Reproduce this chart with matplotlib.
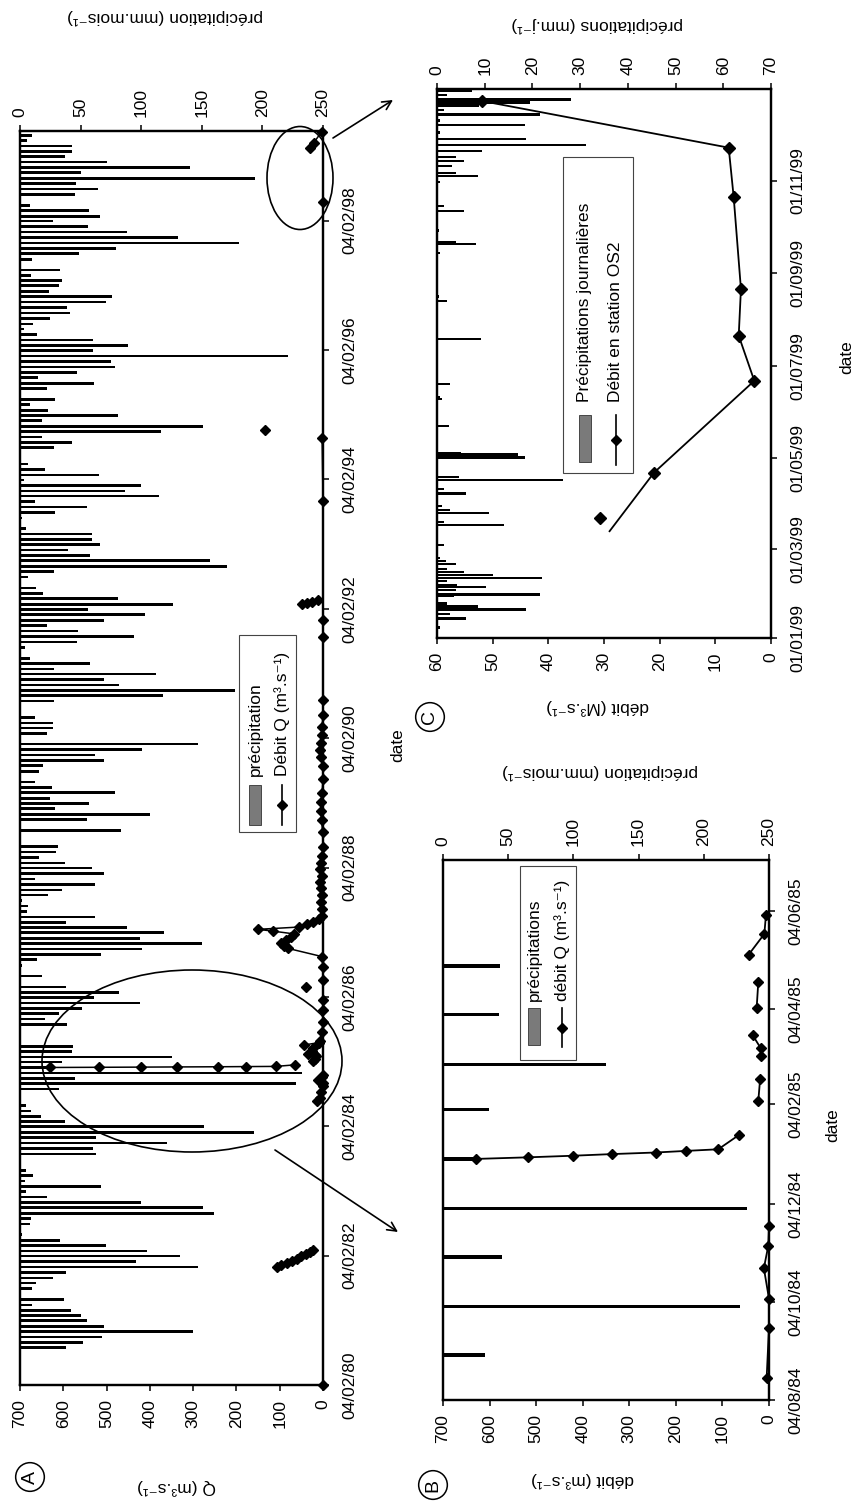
import numpy as np
import matplotlib
matplotlib.use('Agg')
import matplotlib.pyplot as plt
import matplotlib.dates as mdates
from matplotlib.patches import Ellipse, Rectangle

plt.rcParams['font.family'] = ['Liberation Sans', 'DejaVu Sans']
plt.rcParams['font.size'] = 12.5

# ------------------------------------------------------------------ data
# monthly precipitation (mm/month), one value per month from Sept. 1980
precip_start = '1980-09'
precip_monthly = [
    38, 52, 68, 143, 69, 55, 50, 42, 10, 36, 0, 10,
    13, 27, 38, 147, 96, 132, 105, 71, 33, 2, 0, 8,
    9, 160, 151, 100, 22, 5, 67, 4, 11, 5, 0, 0,
    63, 60, 121, 63, 193, 152, 37, 17, 9, 5, 1, 0.5,
    32.5, 228, 45.5, 233, 25, 35, 125, 43, 43.5, 0, 0, 0,
    39, 21, 32, 51, 99, 61, 82, 38, 0, 18, 0, 2,
    14, 67, 101, 150, 99, 119, 88, 38, 62, 6, 7, 2,
    23, 35, 62, 12, 69, 59, 37, 16, 30, 31, 0, 0,
    83, 0.5, 55, 107, 29, 57, 25, 78, 26, 12, 1, 16,
    19, 69, 62, 101, 147, 0.5, 22, 27, 27, 12, 0.5, 0,
    28, 118, 177, 82, 69, 112, 28, 58, 8, 0, 4, 47,
    94, 48, 22, 69, 103, 56, 126, 81, 19, 13, 0, 7,
    28, 171, 157, 58, 40, 66, 59, 59, 5, 0, 1.5, 29,
    55, 12, 115, 87, 100, 3, 65, 21, 7, 0, 0, 28,
    43, 18, 116, 151, 18, 81, 23, 8, 29, 0, 22, 61,
    15, 47, 78, 75, 221, 60, 89, 60, 14, 3, 11, 25,
    41, 39, 71, 76, 24, 32, 35, 9, 33, 0, 10, 49,
    79, 181, 130, 88, 56, 27, 66, 57, 8, 0, 45, 64,
    46, 194, 50, 140, 72, 37, 43, 43, 6, 10,
]

# discharge Q (m3/s) ; NaN rows separate unconnected groups of points
q_dates = [
    '1980-02-04', '1980-06-01',
    '1981-12-01', '1981-12-13', '1981-12-25', '1982-01-06', '1982-01-18',
    '1982-01-30', '1982-02-11', '1982-02-23', '1982-03-07', '1983-01-01',
    '1984-06-25', '1984-07-15', '1984-08-18', '1984-09-18', '1984-10-06',
    '1984-10-25', '1984-11-08', '1984-11-20', '1984-12-20',
    '1985-01-01', '1985-01-02', '1985-01-03', '1985-01-04', '1985-01-05',
    '1985-01-06', '1985-01-07', '1985-01-16', '1985-01-25',
    '1985-02-06', '1985-02-20', '1985-02-28',
    '1985-03-06', '1985-03-11', '1985-03-19', '1985-03-28',
    '1985-04-05', '1985-04-21', '1985-04-30',
    '1985-05-08', '1985-05-21', '1985-06-02', '1985-07-20', '1985-09-17',
    '1985-11-20', '1986-01-15', '1986-03-01',
    '1986-04-02', '1986-04-20',
    '1986-05-10', '1986-07-24', '1986-09-19', '1986-11-05', '1986-11-20',
    '1986-12-05', '1986-12-20', '1987-01-05', '1987-01-25', '1987-02-10',
    '1987-02-20', '1987-03-05', '1987-03-20', '1987-04-05', '1987-04-20',
    '1987-05-05', '1987-06-15', '1987-07-25', '1987-09-01', '1987-10-10',
    '1987-11-15', '1987-12-20', '1988-01-25', '1988-03-01', '1988-04-10',
    '1988-06-01', '1988-08-20', '1988-11-01', '1988-12-20', '1989-02-10',
    '1989-04-01', '1989-06-20', '1989-09-01', '1989-10-20', '1989-12-01',
    '1990-01-10', '1990-02-20', '1990-04-10', '1990-06-15', '1990-09-06',
    '1991-08-26', '1991-12-01', '1992-02-15',
    '1992-03-01', '1992-03-08', '1992-03-16', '1992-03-24', '1992-06-01',
    '1993-10-05', '1994-09-28', '1994-10-20',
    '1994-11-12', '1995-01-01',
    '1998-05-18', '1998-09-01',
]
q_values = [
    0, np.nan,
    106, 96, 84, 72, 60, 50, 40, 30, 23, np.nan,
    15, 8, 5, 0, 0, 11, 1.5, 0, np.nan,
    630, 517, 420, 338, 243, 178, 109, 64, np.nan,
    23, 19, np.nan,
    17, 18, 35, np.nan,
    26.5, 23, np.nan,
    44, 10, 6.5, 2, 0, 1, 0, np.nan,
    39, np.nan,
    0, 0, 2, 82, 90, 97, 86, 75, 66, 116, 150, 55, 38, 22, 10, 3,
    2, 5, 2, 4, 6, 3, 7, 4, 2, 0, 1, 3, 5, 4, 2, 0, 1, 4, 6, 5, 3, 2, 0,
    0, 0, 0, np.nan,
    48, 38, 25, 12, np.nan,
    0, 2, np.nan,
    135, np.nan,
    0, np.nan,
]

# daily rainfall 1999 (mm/day)
c_rain_dates = [
    '1999-01-01', '1999-01-08', '1999-01-14', '1999-01-17', '1999-01-20',
    '1999-01-22', '1999-01-24', '1999-01-29', '1999-01-30', '1999-02-02',
    '1999-02-04', '1999-02-05', '1999-02-08', '1999-02-10', '1999-02-12',
    '1999-02-14', '1999-02-16', '1999-02-19', '1999-02-21', '1999-02-23',
    '1999-03-04', '1999-03-17', '1999-03-19', '1999-03-25', '1999-03-27',
    '1999-03-30', '1999-04-07', '1999-04-10', '1999-04-16', '1999-04-18',
    '1999-05-01', '1999-05-03', '1999-05-04', '1999-05-22', '1999-06-09',
    '1999-06-10', '1999-06-19', '1999-07-19', '1999-08-13', '1999-08-16',
    '1999-09-14', '1999-09-20', '1999-09-21', '1999-09-29', '1999-10-12',
    '1999-10-15', '1999-10-31', '1999-11-04', '1999-11-06', '1999-11-11',
    '1999-11-14', '1999-11-17', '1999-11-21', '1999-11-25', '1999-11-29',
    '1999-12-03', '1999-12-08', '1999-12-11', '1999-12-15', '1999-12-18',
    '1999-12-21', '1999-12-23', '1999-12-25', '1999-12-28', '1999-12-31',
]
c_rain_values = [
    60, 0.7, 6, 2.8, 18.7, 8.5, 2, 3.5, 21.6, 3.9,
    10.3, 4.2, 2, 22, 11.7, 5.7, 2, 3.9, 1.8, 0.7,
    1.4, 14, 1.4, 11, 2.8, 1, 6, 1.4, 26.5, 4.6,
    18.4, 17, 5, 2.5, 1, 0.7, 2.8, 9.2, 2, 0.4,
    0.7, 8.1, 3.9, 0.4, 5.7, 1.4, 0.7, 8.5, 3.9, 3.2,
    5.7, 3.9, 9.5, 31.3, 18.7, 0.7, 18.4, 0.7, 21.6, 1.4,
    8.8, 19.4, 28, 2, 7.4,
]

# discharge at station OS2, 1999 (M3/s)
c_q_dates = ['1999-03-22', '1999-04-21', '1999-06-21', '1999-07-21',
             '1999-08-21', '1999-10-21', '1999-11-23', '1999-12-24']
c_q_values = [30.8, 21, 3, 5.8, 5.4, 6.7, 7.6, 51.9]
# the drawn line starts slightly apart from the first marker
c_line_dates = ['1999-03-13'] + c_q_dates[1:]
c_line_values = [29] + c_q_values[1:]

a_date_ticks = ['1980-02-04', '1982-02-04', '1984-02-04', '1986-02-04',
                '1988-02-04', '1990-02-04', '1992-02-04', '1994-02-04',
                '1996-02-04', '1998-02-04']
b_date_ticks = ['1984-08-04', '1984-10-04', '1984-12-04', '1985-02-04',
                '1985-04-04', '1985-06-04']
c_date_ticks = ['1999-01-01', '1999-03-01', '1999-05-01', '1999-07-01',
                '1999-09-01', '1999-11-01']
a_range = ('1980-02-04', '1999-06-25')
b_range = ('1984-08-04', '1985-07-06')
c_range = ('1999-01-01', '2000-01-01')

# ------------------------------------------------------------------ helpers
def d64(lst):
    return np.array(lst, dtype='datetime64[D]')


def within(dates, rng):
    return (dates >= np.datetime64(rng[0])) & (dates <= np.datetime64(rng[1]))


precip_dates = np.arange(np.datetime64(precip_start, 'M'),
                         np.datetime64(precip_start, 'M') + len(precip_monthly)
                         ).astype('datetime64[D]')
precip_vals = np.array(precip_monthly, dtype=float)
qd = d64(q_dates)
qv = np.array(q_values, dtype=float)
# full Q series for panel A (including 1999)
qd_all = np.concatenate([qd, d64(c_q_dates)])
qv_all = np.concatenate([qv, np.array(c_q_values, dtype=float)])

W, H = 853, 1503
fig = plt.figure(figsize=(W / 100, H / 100), dpi=100)
fig.patch.set_facecolor('white')


def rect(l, t, r, b):
    return [l / W, 1 - b / H, (r - l) / W, (b - t) / H]


def style_axis(axp, axq, p_max, p_step, q_max, q_step, drange, dticks):
    axp.set_xlim(0, p_max)
    axp.set_xticks(np.arange(0, p_max + 1, p_step))
    axq.set_xlim(q_max, 0)
    axq.set_xticks(np.arange(0, q_max + 1, q_step))
    axp.xaxis.tick_top()
    axq.xaxis.tick_bottom()
    axp.yaxis.tick_right()
    axp.set_ylim(np.datetime64(drange[0]), np.datetime64(drange[1]))
    axp.set_yticks(d64(dticks))
    axp.yaxis.set_major_formatter(mdates.DateFormatter('%d/%m/%y'))
    axp.tick_params(axis='x', direction='out', length=4, width=1.1, pad=6,
                    labelrotation=90)
    axq.tick_params(axis='x', direction='out', length=4, width=1.1, pad=6,
                    labelrotation=90)
    axp.tick_params(axis='y', direction='out', length=4, width=1.1, pad=10,
                    labelrotation=90)
    for lab in axp.get_yticklabels():
        lab.set_va('center')
    for ax in (axp, axq):
        for s in ax.spines.values():
            s.set_linewidth(1.6)
            s.set_color('black')


# ------------------------------------------------------------------ panel A
axA = fig.add_axes(rect(20, 131, 323, 1385))
axAq = axA.twiny()
axA.barh(precip_dates, precip_vals, height=np.timedelta64(15, 'D'),
         color='black', align='center')
mA = within(qd_all, a_range)
axAq.plot(qv_all[mA], qd_all[mA], color='black', lw=1.1, marker='D', ms=5,
          mfc='black', mec='black', clip_on=False)
style_axis(axA, axAq, 250, 50, 700, 100, a_range, a_date_ticks)

# ------------------------------------------------------------------ panel B
axB = fig.add_axes(rect(443, 860, 769, 1400))
axBq = axB.twiny()
mBp = within(precip_dates, b_range)
axB.barh(precip_dates[mBp], precip_vals[mBp], height=np.timedelta64(2, 'D'),
         color='black', align='center')
mB = within(qd, b_range)
axBq.plot(qv[mB], qd[mB], color='black', lw=1.3, marker='D', ms=5,
          mfc='black', mec='black', clip_on=False)
style_axis(axB, axBq, 250, 50, 700, 100, b_range, b_date_ticks)

# ------------------------------------------------------------------ panel C
axC = fig.add_axes(rect(437, 89, 771, 638))
axCq = axC.twiny()
axC.barh(d64(c_rain_dates), c_rain_values,
         height=np.timedelta64(36, 'h'),
         color='black', align='center')
axCq.plot(np.array(c_line_values), d64(c_line_dates), color='black', lw=1.3)
axCq.plot(np.array(c_q_values), d64(c_q_dates), ls='none', marker='D', ms=6.5,
          mfc='black', mec='black')
style_axis(axC, axCq, 70, 10, 60, 10, c_range, c_date_ticks)

# ------------------------------------------------------------------ overlay (page coordinates)
ov = fig.add_axes([0, 0, 1, 1], zorder=10)
ov.set_xlim(0, W)
ov.set_ylim(H, 0)
ov.axis('off')


def txt(x, y, s, rot):
    ov.text(x, y, s, rotation=rot, ha='center', va='center')


# axis titles
txt(165, 17, 'précipitation (mm.mois⁻¹)', 180)
txt(177, 1487, 'Q (m³.s⁻¹)', 180)
txt(398, 745, 'date', 90)
txt(600, 772, 'précipitation (mm.mois⁻¹)', 180)
txt(583, 1480, 'débit (m³.s⁻¹)', 180)
txt(833, 1125, 'date', 90)
txt(597, 25, 'précipitations (mm.j⁻¹)', 180)
txt(598, 707, 'débit (M³.s⁻¹)', 180)
txt(847, 357, 'date', 90)

# panel letters
for (x, y, s) in [(30, 1477, 'A'), (433, 1485, 'B'), (430, 717, 'C')]:
    ov.text(x, y, s, rotation=90, ha='center', va='center', fontsize=14,
            bbox=dict(boxstyle='circle,pad=0.3', fc='none', ec='black',
                      lw=1.1))


def legend(box, entries):
    x0, y0, x1, y1 = box
    ov.add_patch(Rectangle((x0, y0), x1 - x0, y1 - y0, fc='white',
                           ec='#444444', lw=0.8))
    for kind, label, x, s0, s1, ty in entries:
        if kind == 'patch':
            ov.add_patch(Rectangle((x - 6, s0), 12, s1 - s0, fc='#7a7a7a',
                                   ec='#333333', lw=0.6))
        else:
            ov.plot([x, x], [s0, s1], color='black', lw=1.2)
            ov.plot([x], [(s0 + s1) / 2], marker='D', ms=5.5, color='black')
        ov.text(x, ty, label, rotation=90, ha='center', va='bottom')


legend((239, 635, 296, 832),
       [('patch', 'précipitation', 255, 785, 825, 776),
        ('line', 'Débit Q (m³.s⁻¹)', 282, 785, 825, 776)])
legend((520, 866, 576, 1060),
       [('patch', 'précipitations', 534, 1008, 1045, 1001),
        ('line', 'débit Q (m³.s⁻¹)', 562, 1008, 1047, 1001)])
legend((563, 157, 633, 473),
       [('patch', 'Précipitations journalières', 585, 415, 462, 402),
        ('line', 'Débit en station OS2', 616, 415, 465, 402)])

# zoom ellipses and arrows
ov.add_patch(Ellipse((192, 1061), 300, 182, fc='none', ec='black', lw=1.2))
ov.add_patch(Ellipse((300, 178), 66, 103, fc='none', ec='black', lw=1.2))
ov.annotate('', xy=(398, 1232), xytext=(275, 1150),
            arrowprops=dict(arrowstyle='->', lw=1.2, color='black',
                            mutation_scale=16, shrinkA=0, shrinkB=0))
ov.annotate('', xy=(393, 100), xytext=(333, 138),
            arrowprops=dict(arrowstyle='->', lw=1.2, color='black',
                            mutation_scale=16, shrinkA=0, shrinkB=0))

fig.savefig('out.png', dpi=100, facecolor='white')
